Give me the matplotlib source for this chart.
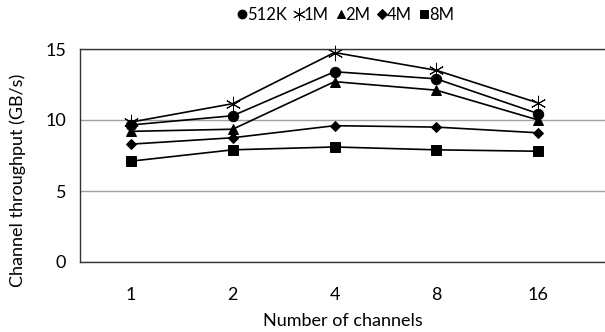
import matplotlib
matplotlib.use("Agg")
import matplotlib.pyplot as plt

plt.rcParams['font.family'] = ['Lato', 'DejaVu Sans']

channels = ["1", "2", "4", "8", "16"]
s512k = [9.65, 10.3, 13.4, 12.9, 10.45]
s1m = [9.85, 11.15, 14.75, 13.5, 11.2]
s2m = [9.2, 9.35, 12.7, 12.1, 10.0]
s4m = [8.3, 8.75, 9.6, 9.5, 9.1]
s8m = [7.1, 7.9, 8.1, 7.9, 7.8]
series_names = ["512K", "1M", "2M", "4M", "8M"]
yticks = [0, 5, 10, 15]

fig = plt.figure(figsize=(6.05, 3.32), dpi=100)
ax = fig.add_axes([80/605, 1-262/332, 1-80/605, (262-49)/332])

x = list(range(len(channels)))
markers = ['o', (6, 2, 0), '^', 'D', 's']
msizes = [7.5, 11, 7, 5.5, 7.5]
data = [s512k, s1m, s2m, s4m, s8m]
for d, m, ms, name in zip(data, markers, msizes, series_names):
    ax.plot(x, d, color='black', lw=1.2, marker=m, markersize=ms,
            markeredgecolor='black', markerfacecolor='black', label=name,
            markeredgewidth=0.7, clip_on=False)

ax.set_xlim(-0.5, (605-130)/102)
ax.set_ylim(0, 15)
ax.set_yticks(yticks)
ax.set_xticks(x)
ax.set_xticklabels(channels)
ax.tick_params(axis='x', length=0, labelsize=13, pad=18)
ax.tick_params(axis='y', length=0, labelsize=13, pad=10)
ax.yaxis.grid(True, color='#a0a0a0', lw=1)
ax.set_axisbelow(True)
ax.spines['right'].set_visible(False)
for sp in ['left', 'bottom', 'top']:
    ax.spines[sp].set_color('#333333')
    ax.spines[sp].set_linewidth(1)
fig.text(343/605, 1-321/332, "Number of channels", fontsize=13,
         ha='center', va='center')
fig.text(18/605, 1-180/332, "Channel throughput (GB/s)", fontsize=13,
         ha='center', va='center', rotation=90)

leg = fig.legend(loc='center', bbox_to_anchor=(346/605, 1-15/332), ncol=5,
                 frameon=False, fontsize=12, handlelength=0.5, handletextpad=0.05,
                 columnspacing=0.45, borderaxespad=0, markerscale=0.85)
for h in leg.legend_handles:
    h.set_linestyle('None')

fig.savefig("out.png", dpi=100)
